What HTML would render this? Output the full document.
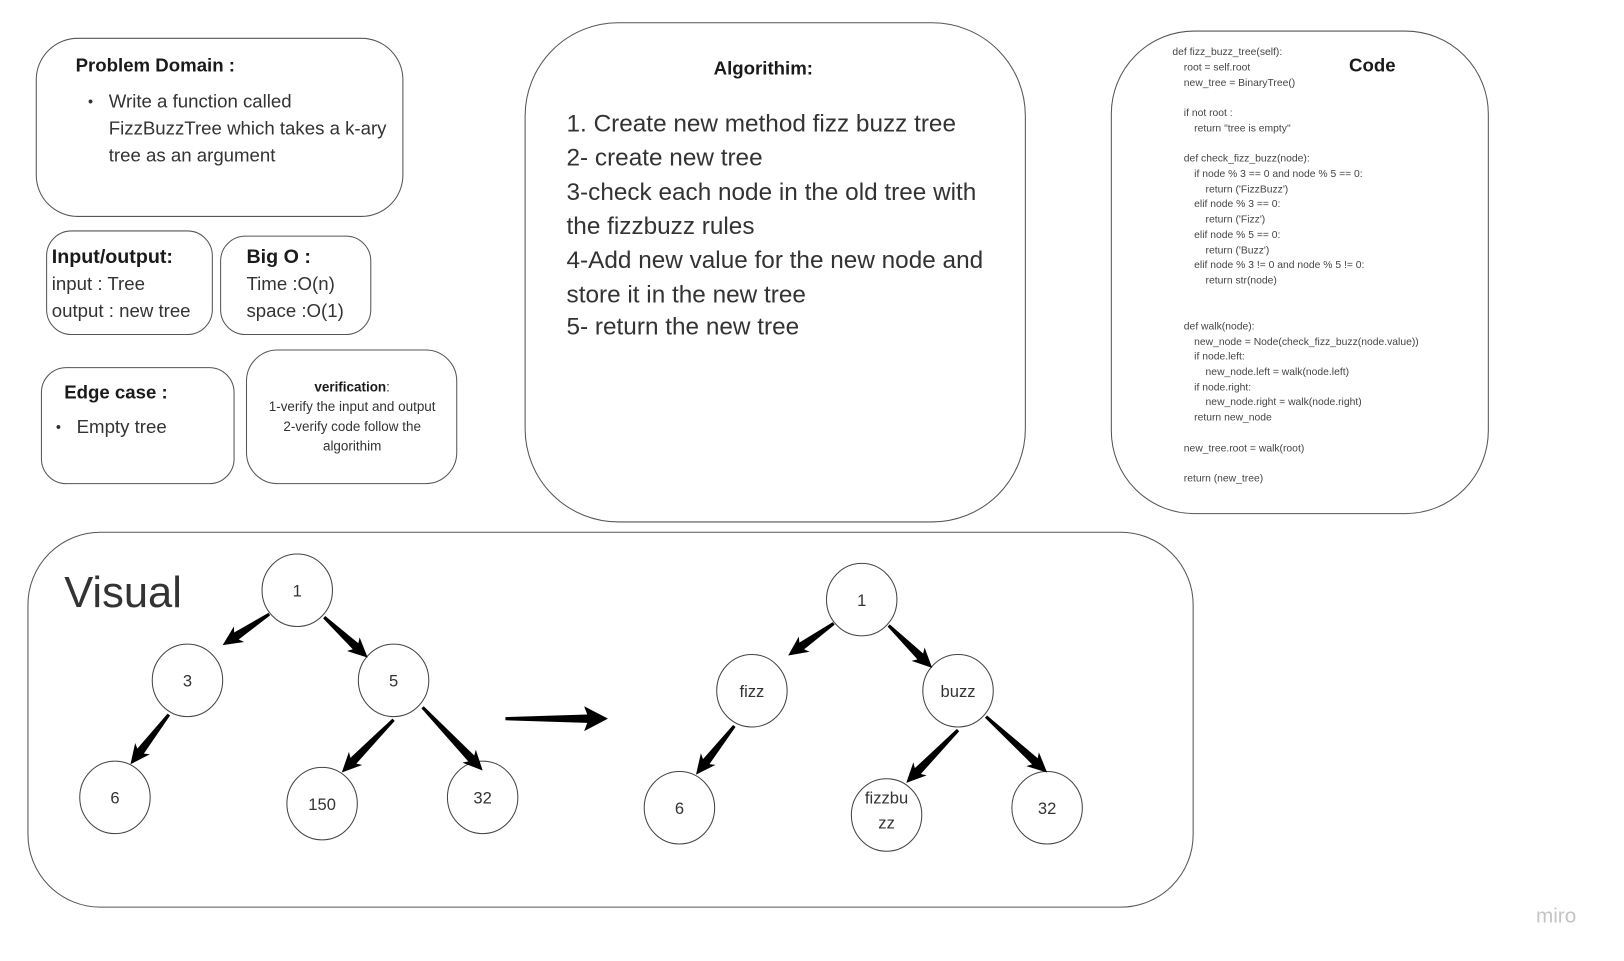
<!DOCTYPE html>
<html><head><meta charset="utf-8"><style>
html,body{margin:0;padding:0;background:#fff;}
svg{display:block;}
text{font-family:"Liberation Sans",sans-serif;fill:#333;}
.b{font-weight:bold;fill:#1a1a1a;}
.c{font-size:10px;fill:#444;}
</style></head><body>
<svg id="s" width="1624" height="961" viewBox="0 0 1568 928" preserveAspectRatio="none" xmlns="http://www.w3.org/2000/svg">
<g fill="none" stroke="#555" stroke-width="1">
<rect x="35" y="37" width="354" height="172" rx="40"/>
<rect x="45" y="223" width="160" height="100" rx="24"/>
<rect x="213" y="228" width="145" height="95" rx="24"/>
<rect x="40" y="355" width="186" height="112" rx="24"/>
<rect x="238" y="338" width="203" height="129" rx="30"/>
<rect x="507" y="22" width="483" height="482" rx="90"/>
<rect x="1073" y="30" width="364" height="466" rx="80"/>
<rect x="27" y="514" width="1125" height="362" rx="70"/>
</g>
<text class="b" x="73" y="69" font-size="18">Problem Domain :</text>
<text x="85" y="103" font-size="14">•</text>
<text font-size="18"><tspan x="105" y="104">Write a function called</tspan><tspan x="105" y="130">FizzBuzzTree which takes a k-ary</tspan><tspan x="105" y="156">tree as an argument</tspan></text>
<text class="b" x="50" y="254" font-size="19">Input/output:</text>
<text font-size="18"><tspan x="50" y="280">input : Tree</tspan><tspan x="50" y="306">output : new tree</tspan></text>
<text class="b" x="238" y="254" font-size="19">Big O :</text>
<text font-size="18"><tspan x="238" y="280">Time :O(n)</tspan><tspan x="238" y="306">space :O(1)</tspan></text>
<text class="b" x="62" y="385" font-size="18">Edge case :</text>
<text x="54" y="417" font-size="14">•</text>
<text x="74" y="418" font-size="18">Empty tree</text>
<text text-anchor="middle" font-size="13"><tspan x="340" y="378"><tspan class="b">verification</tspan>:</tspan><tspan x="340" y="397">1-verify the input and output</tspan><tspan x="340" y="416">2-verify code follow the</tspan><tspan x="340" y="435">algorithim</tspan></text>
<text class="b" x="737" y="72" font-size="18" text-anchor="middle">Algorithim:</text>
<text font-size="23.5"><tspan x="547" y="127">1. Create new method fizz buzz tree</tspan><tspan x="547" y="160">2- create new tree</tspan><tspan x="547" y="193">3-check each node in the old tree with</tspan><tspan x="547" y="226">the fizzbuzz rules</tspan><tspan x="547" y="259">4-Add new value for the  new node and</tspan><tspan x="547" y="292">store it  in the new tree</tspan><tspan x="547" y="323">5- return the new tree</tspan></text>
<text class="b" x="1325" y="69" font-size="18" text-anchor="middle">Code</text>
<g class="c">
<text class="c" x="1132" y="53">def fizz_buzz_tree(self):</text>
<text class="c" x="1143" y="68">root = self.root</text>
<text class="c" x="1143" y="83">new_tree = BinaryTree()</text>
<text class="c" x="1143" y="112">if not root :</text>
<text class="c" x="1153" y="127">return "tree is empty"</text>
<text class="c" x="1143" y="156">def check_fizz_buzz(node):</text>
<text class="c" x="1153" y="171">if node % 3 == 0 and node % 5 == 0:</text>
<text class="c" x="1164" y="186">return ('FizzBuzz')</text>
<text class="c" x="1153" y="200">elif node % 3 == 0:</text>
<text class="c" x="1164" y="215">return ('Fizz')</text>
<text class="c" x="1153" y="230">elif node % 5 == 0:</text>
<text class="c" x="1164" y="245">return ('Buzz')</text>
<text class="c" x="1153" y="259">elif node % 3 != 0 and node % 5 != 0:</text>
<text class="c" x="1164" y="274">return str(node)</text>
<text class="c" x="1143" y="318">def walk(node):</text>
<text class="c" x="1153" y="333">new_node = Node(check_fizz_buzz(node.value))</text>
<text class="c" x="1153" y="347">if node.left:</text>
<text class="c" x="1164" y="362">new_node.left = walk(node.left)</text>
<text class="c" x="1153" y="377">if node.right:</text>
<text class="c" x="1164" y="391">new_node.right = walk(node.right)</text>
<text class="c" x="1153" y="406">return new_node</text>
<text class="c" x="1143" y="436">new_tree.root = walk(root)</text>
<text class="c" x="1143" y="465">return (new_tree)</text>
</g>
<text x="62" y="586" font-size="42" fill="#222">Visual</text>
<g id="nodes" fill="none" stroke="#444" stroke-width="1"></g>
<g id="arrows" fill="#000"></g>
<text x="1483" y="891" font-size="20" style="fill:#c4c4c4">miro</text>
</svg>
<script>
var NS="http://www.w3.org/2000/svg";
var nodes=[[287,570,"1"],[181,657,"3"],[380,657,"5"],[111,770,"6"],[311,776,"150"],[466,770,"32"],
[832,579,"1"],[726,667,"fizz"],[925,667,"buzz"],[656,780,"6"],[856,787,"fizzbu|zz"],[1011,780,"32"]];
var g=document.getElementById("nodes"),s=document.getElementById("s");
nodes.forEach(function(n){
 var e=document.createElementNS(NS,"ellipse");
 e.setAttribute("cx",n[0]);e.setAttribute("cy",n[1]);e.setAttribute("rx",34);e.setAttribute("ry",35);
 g.appendChild(e);
 var parts=n[2].split("|");
 parts.forEach(function(p,i){
  var t=document.createElementNS(NS,"text");
  t.setAttribute("x",n[0]);
  t.setAttribute("y",n[1]+6+(parts.length>1?(i*24-17):0));
  t.setAttribute("text-anchor","middle");t.setAttribute("font-size","16");
  t.textContent=p;s.appendChild(t);
 });
});
var arrows=[[260,593,215,623],[313,596,355,635],[163,690,126,738],[380,695,330,746],[408,683,466,744],
[805,602,761,633],[858,604,900,645],[709,701,672,748],[925,705,875,756],[952,692,1011,746],[488,694,587,694,1]];
var ag=document.getElementById("arrows");
arrows.forEach(function(a){
 var x1=a[0],y1=a[1],x2=a[2],y2=a[3];
 var dx=x2-x1,dy=y2-y1,L=Math.sqrt(dx*dx+dy*dy),ux=dx/L,uy=dy/L,px=-uy,py=ux;
 var hl=a[4]?20:16,hw=a[4]?12:9,w0=1.5,w1=4;
 var bx=x2-ux*hl,by=y2-uy*hl;
 var pts=[[x1+px*w0,y1+py*w0],[bx+px*w1,by+py*w1],[bx+px*hw-ux*3,by+py*hw-uy*3],[x2,y2],[bx-px*hw-ux*3,by-py*hw-uy*3],[bx-px*w1,by-py*w1],[x1-px*w0,y1-py*w0]];
 var p=document.createElementNS(NS,"polygon");
 p.setAttribute("points",pts.map(function(q){return q[0].toFixed(1)+","+q[1].toFixed(1)}).join(" "));
 ag.appendChild(p);
});
</script>
</body></html>
